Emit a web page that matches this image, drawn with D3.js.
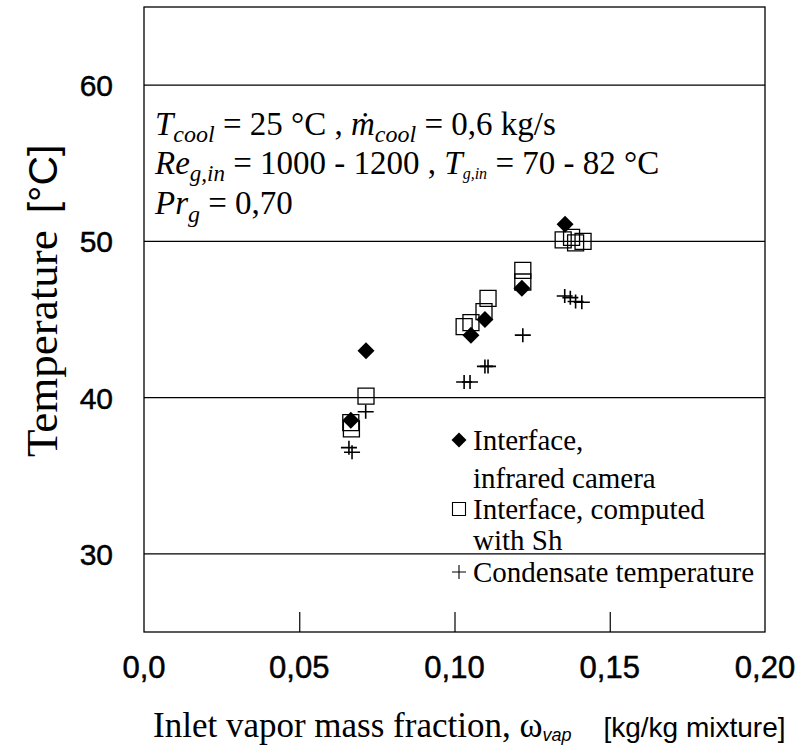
<!DOCTYPE html>
<html>
<head>
<meta charset="utf-8">
<script src="https://cdn.jsdelivr.net/npm/d3@7.9.0/dist/d3.min.js"></script>
<style>
  body { margin: 0; background: #fff; }
  svg { display: block; }
  .heavy { stroke: #000; stroke-width: 0.5px; }
</style>
</head>
<body>
<svg id="chart" width="799" height="749"></svg>
<script>
// values
const xTicks = [0, 0.05, 0.10, 0.15, 0.20];
const xTickLabels = ['0,0', '0,05', '0,10', '0,15', '0,20'];
const yTicks = [30, 40, 50, 60];

// interface, infrared camera (filled diamonds)
const cameraX = [0.0666, 0.0715, 0.1053, 0.1098, 0.1217, 0.1356];
const cameraT = [38.55, 43.0, 44.0, 45.0, 47.0, 51.1];

// interface, computed with Sh (open squares)
const shX = [0.0666, 0.0668, 0.0715, 0.1031, 0.1053, 0.1095, 0.1108, 0.1220, 0.1220, 0.1350, 0.1377, 0.1390, 0.1414];
const shT = [38.4, 38.0, 40.1, 44.55, 44.8, 45.5, 46.35, 47.4, 48.15, 50.1, 50.25, 49.9, 50.0];

// condensate temperature (crosses)
const condX = [0.0660, 0.0670, 0.0714, 0.1031, 0.1050, 0.1098, 0.1108, 0.1220, 0.1355, 0.1373, 0.1390, 0.1410];
const condT = [36.8, 36.5, 39.1, 41.0, 41.0, 42.0, 42.0, 44.0, 46.5, 46.4, 46.15, 46.1];

const legendItems = [
  { type: 'diamond', lines: ['Interface,', 'infrared camera'] },
  { type: 'square', lines: ['Interface, computed', 'with Sh'] },
  { type: 'cross', lines: ['Condensate temperature'] },
];

const SERIF = '"Liberation Serif", "Times New Roman", Times, serif';
const SANS = '"Liberation Sans", Arial, Helvetica, sans-serif';

const svg = d3.select('#chart');
const plotL = 144, plotR = 765, plotT = 7, plotB = 632;

const x = d3.scaleLinear().domain([0, 0.2]).range([plotL, plotR]);
const y = d3.scaleLinear().domain([25, 65]).range([plotB, plotT]);

// grid lines
svg.append('g')
  .selectAll('line')
  .data(yTicks)
  .join('line')
  .attr('x1', plotL).attr('x2', plotR)
  .attr('y1', d => y(d)).attr('y2', d => y(d))
  .attr('stroke', '#000')
  .attr('stroke-width', 1.2);

// frame
svg.append('rect')
  .attr('x', plotL).attr('y', plotT)
  .attr('width', plotR - plotL).attr('height', plotB - plotT)
  .attr('fill', 'none')
  .attr('stroke', '#000')
  .attr('stroke-width', 1.3);

// x axis: inward ticks, labels below
const xAxis = d3.axisTop(x)
  .tickValues(xTicks.slice(1, -1))
  .tickSize(20)
  .tickFormat('');
svg.append('g')
  .attr('transform', `translate(0,${plotB})`)
  .call(xAxis)
  .call(g => g.select('.domain').remove())
  .call(g => g.selectAll('line').attr('stroke', '#000').attr('stroke-width', 1.2));

svg.append('g')
  .selectAll('text')
  .data(xTicks)
  .join('text')
  .attr('class', 'heavy')
  .attr('font-family', SANS)
  .attr('x', d => x(d))
  .attr('y', 678)
  .attr('text-anchor', 'middle')
  .attr('font-size', 31)
  .text((d, i) => xTickLabels[i]);

// y labels
svg.append('g')
  .selectAll('text')
  .data(yTicks)
  .join('text')
  .attr('class', 'heavy')
  .attr('font-family', SANS)
  .attr('x', 113)
  .attr('y', d => y(d) + 11)
  .attr('text-anchor', 'end')
  .attr('font-size', 30)
  .text(d => d);

// axis titles
const xTitle = svg.append('text')
  .attr('x', 153)
  .attr('y', 737);
xTitle.append('tspan').attr('font-family', SERIF).attr('font-size', 35).text('Inlet vapor mass fraction, \u03c9');
xTitle.append('tspan').attr('font-family', SANS).attr('font-size', 18).attr('font-style', 'italic').attr('dy', 4).text('vap');
xTitle.append('tspan').attr('font-family', SANS).attr('font-size', 28).attr('dy', -4).attr('dx', 32).text('[kg/kg mixture]');

const yTitle = svg.append('text')
  .attr('transform', 'translate(57,457) rotate(-90)');
yTitle.append('tspan').attr('font-family', SERIF).attr('font-size', 45).text('Temperature');
yTitle.append('tspan').attr('font-family', SANS).attr('font-size', 41).attr('dx', 17).text('[\u00b0C]');

// annotation block
function sub(t, s, size, dy) {
  t.append('tspan').attr('font-size', size).attr('font-style', 'italic').attr('dy', dy).text(s);
}
const ann = svg.append('g');

const l1 = ann.append('text').attr('font-family', SERIF).attr('x', 155).attr('y', 135).attr('font-size', 33);
l1.append('tspan').attr('font-style', 'italic').text('T');
sub(l1, 'cool', 24, 7);
l1.append('tspan').attr('dy', -7).text(' = 25 \u00b0C ,  ');
l1.append('tspan').attr('font-style', 'italic').text('\u1e41');
sub(l1, 'cool', 24, 7);
l1.append('tspan').attr('dy', -7).text(' = 0,6 kg/s');

const l2 = ann.append('text').attr('font-family', SERIF).attr('x', 155).attr('y', 174).attr('font-size', 33);
l2.append('tspan').attr('font-style', 'italic').text('Re');
sub(l2, 'g,in', 23, 7);
l2.append('tspan').attr('dy', -7).text(' = 1000 - 1200 , ');
l2.append('tspan').attr('font-style', 'italic').text('T');
sub(l2, 'g,in', 16, 5);
l2.append('tspan').attr('dy', -5).text(' = 70 - 82 \u00b0C');

const l3 = ann.append('text').attr('font-family', SERIF).attr('x', 155).attr('y', 214).attr('font-size', 33);
l3.append('tspan').attr('font-style', 'italic').text('Pr');
sub(l3, 'g', 24, 8);
l3.append('tspan').attr('dy', -8).text(' = 0,70');

// marker shapes
const diamondPath = r => `M0,${-r}L${r},0L0,${r}L${-r},0Z`;
const squarePath = s => `M${-s / 2},${-s / 2}h${s}v${s}h${-s}Z`;
const crossPath = (w, h) => `M${-w / 2},0H${w / 2}M0,${-h / 2}V${h / 2}`;

const marks = svg.append('g');

marks.selectAll('path.sq')
  .data(d3.zip(shX, shT))
  .join('path')
  .attr('class', 'sq')
  .attr('transform', d => `translate(${x(d[0])},${y(d[1])})`)
  .attr('d', squarePath(16))
  .attr('fill', 'none')
  .attr('stroke', '#000')
  .attr('stroke-width', 1.3);

marks.selectAll('path.cr')
  .data(d3.zip(condX, condT))
  .join('path')
  .attr('class', 'cr')
  .attr('transform', d => `translate(${x(d[0])},${y(d[1])})`)
  .attr('d', crossPath(16, 14))
  .attr('fill', 'none')
  .attr('stroke', '#000')
  .attr('stroke-width', 1.6);

marks.selectAll('path.di')
  .data(d3.zip(cameraX, cameraT))
  .join('path')
  .attr('class', 'di')
  .attr('transform', d => `translate(${x(d[0])},${y(d[1])})`)
  .attr('d', diamondPath(8.5))
  .attr('fill', '#000');

// legend
const legend = svg.append('g');
const lineYs = [450, 488, 519, 550, 582];
let li = 0;
legendItems.forEach(item => {
  const yy = lineYs[li];
  const g = legend.append('g').attr('transform', `translate(459,${yy - 10})`);
  if (item.type === 'diamond') {
    g.append('path').attr('d', diamondPath(7.5)).attr('fill', '#000');
  } else if (item.type === 'square') {
    g.append('path').attr('d', squarePath(13)).attr('fill', 'none').attr('stroke', '#000').attr('stroke-width', 1.1);
  } else {
    g.append('path').attr('d', crossPath(14, 14)).attr('stroke', '#000').attr('stroke-width', 1.1);
  }
  item.lines.forEach(t => {
    legend.append('text')
      .attr('font-family', SERIF)
      .attr('x', 473)
      .attr('y', lineYs[li])
      .attr('font-size', 29)
      .text(t);
    li++;
  });
});
</script>
</body>
</html>
